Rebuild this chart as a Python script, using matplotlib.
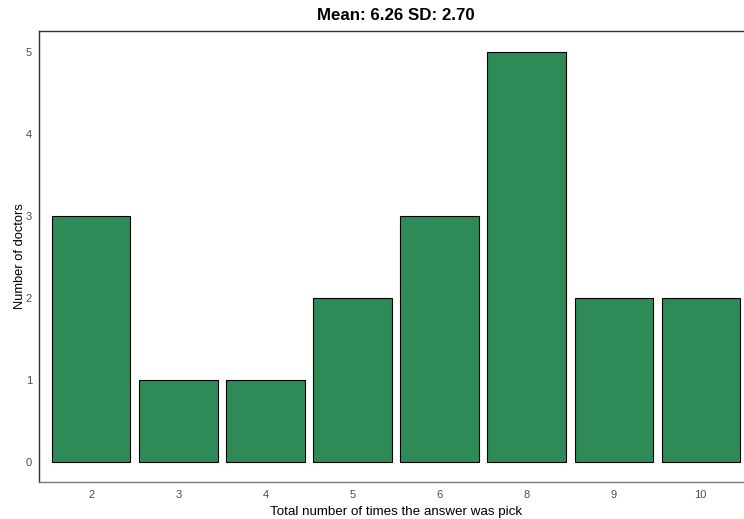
import matplotlib.pyplot as plt

plt.rcParams['font.family'] = ['Liberation Sans', 'DejaVu Sans']

# times picked (category) and how many doctors
categories = ['2', '3', '4', '5', '6', '8', '9', '10']
counts = [3, 1, 1, 2, 3, 5, 2, 2]
title = 'Mean: 6.26 SD: 2.70'

fig = plt.figure(figsize=(7.44, 5.19), dpi=100)
ax = fig.add_axes([39 / 744, 37 / 519, 714 / 744, 451 / 519])

pos = range(len(categories))
ax.bar(pos, counts, width=0.9, color='#2E8B57', edgecolor='black', linewidth=0.8)

ax.set_xlim(-0.6, len(categories) - 0.4)
ax.set_ylim(-0.25, 5.25)
ax.set_xticks(list(pos))
ax.set_xticklabels(categories)
ax.set_yticks(range(0, 6))
ax.tick_params(axis='y', length=0, labelsize=8, colors='#4D4D4D', pad=5)
ax.tick_params(axis='x', length=0, labelsize=8, colors='#4D4D4D', pad=6)

for s in ['left', 'top', 'right']:
    ax.spines[s].set_color('#333333')
    ax.spines[s].set_linewidth(1)
ax.spines['bottom'].set_color('#777777')
ax.spines['bottom'].set_linewidth(1)

ax.set_xlabel('Total number of times the answer was pick', fontsize=9.6, labelpad=4)
ax.set_ylabel('Number of doctors', fontsize=9.3, labelpad=0)
ax.set_title(title, fontsize=12.2, fontweight='bold', pad=8)

fig.savefig('out.png', dpi=100)
